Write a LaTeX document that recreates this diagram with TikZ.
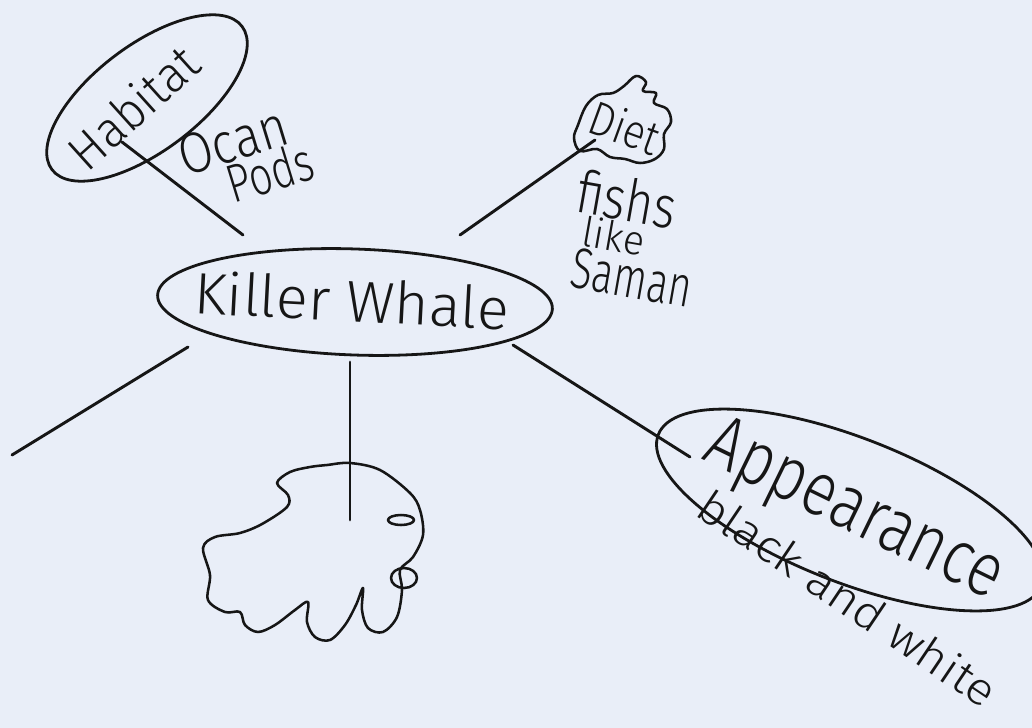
\documentclass[tikz,border=0pt]{standalone}
\usepackage{fontspec}
\usepackage{graphicx}
\newfontfamily\hand{Fira Sans Light}
\usetikzlibrary{shapes.geometric}
\definecolor{paper}{RGB}{233,238,248}
\definecolor{ink}{RGB}{22,22,22}
\newlength\upx
\setlength\upx{0.75pt}
\newcommand{\fitpx}[3]{\resizebox{#1\upx}{#2\upx}{\hand #3}}
\tikzset{
  bubble/.style={ellipse, draw=ink, line width=2.1pt, inner sep=0pt},
  conn/.style={draw=ink, line width=2.2pt, line cap=round},
  scrawl/.style={text=ink, inner sep=0pt},
  cloudline/.style={draw=ink, line width=1.9pt, line join=round}
}
\begin{document}
\begin{tikzpicture}[x=0.75pt,y=-0.75pt]
\fill[paper] (0,0) rectangle (1032,728);
\useasboundingbox (0,0) rectangle (1032,728);
\begin{scope}
\clip (0,0) rectangle (1032,728);
% bubbles
\node[bubble, minimum width=395\upx, minimum height=106\upx, rotate=-2] (kw) at (355,302) {};
\node[bubble, minimum width=238\upx, minimum height=106\upx, rotate=37] (hab) at (147,98) {};
\node[bubble, minimum width=412\upx, minimum height=144\upx, rotate=-21.5] (app) at (850,510) {};
% clouds
\draw[cloudline] plot[smooth cycle, tension=0.6] coordinates {
 (578,125) (586,106) (598,95) (613,93) (624,86) (636,76) (646,82) (643,91)
 (656,93) (654,103) (667,109) (671,122) (664,134) (664,149) (655,159)
 (640,163) (625,159) (610,157) (597,149) (580,151) (574,138)};
\draw[cloudline] plot[smooth cycle, tension=0.55] coordinates {
 (327,465) (350,463) (380,470) (410,493) (420,510) (423,535) (413,557)
 (400,570) (402,590) (397,617) (383,632) (368,628) (362,610) (363,588)
 (356,605) (345,625) (330,640) (315,637) (307,622) (308,602) (295,610)
 (275,625) (258,632) (245,625) (240,612) (225,612) (208,600) (210,575)
 (203,548) (215,537) (240,533) (262,524) (287,507) (288,495) (277,483)
 (290,472) (310,467)};
\draw[cloudline] (401,520) ellipse [x radius=13, y radius=5];
\draw[cloudline] (404,578) ellipse [x radius=13, y radius=10];
\end{scope}
% connector ends
\coordinate (h1) at (122,142); \coordinate (h2) at (243,235);
\coordinate (d1) at (460,235); \coordinate (d2) at (595,140);
\coordinate (a1) at (513,345); \coordinate (a2) at (690,457);
\coordinate (b1) at (350,362); \coordinate (b2) at (350,520);
\coordinate (l1) at (188,347); \coordinate (l2) at (12,455);
\draw[conn] (h1) -- (h2);
\draw[conn] (d1) -- (d2);
\draw[conn] (a1) -- (a2);
\draw[conn] (b1) -- (b2);
\draw[conn] (l1) -- (l2);
% texts
\node[scrawl, rotate=-3] (tkw) at (352,300) {\fitpx{315}{44}{Killer Whale}};
\node[scrawl, rotate=42] (thab) at (133,107) {\fitpx{156}{38}{Habitat}};
\node[scrawl, rotate=17] (tocan) at (233,141) {\fitpx{112}{40}{Ocan}};
\node[scrawl, rotate=17] (tpods) at (270,172) {\fitpx{88}{40}{Pods}};
\node[scrawl, rotate=-20] (tdiet) at (625,127) {\fitpx{72}{36}{Diet}};
\node[scrawl, rotate=-10] (tfish) at (627,199) {\fitpx{100}{44}{fishs}};
\node[scrawl, rotate=-10] (tlike) at (614,236) {\fitpx{62}{31}{like}};
\node[scrawl, rotate=-10] (tsal) at (632,278) {\fitpx{122}{40}{Saman}};
\node[scrawl, rotate=-26] (tapp) at (853,513) {\fitpx{322}{52}{Appearance}};
\node[scrawl, rotate=-34] (tbw) at (848,598) {\fitpx{350}{34}{black and white}};
\end{tikzpicture}
\end{document}
